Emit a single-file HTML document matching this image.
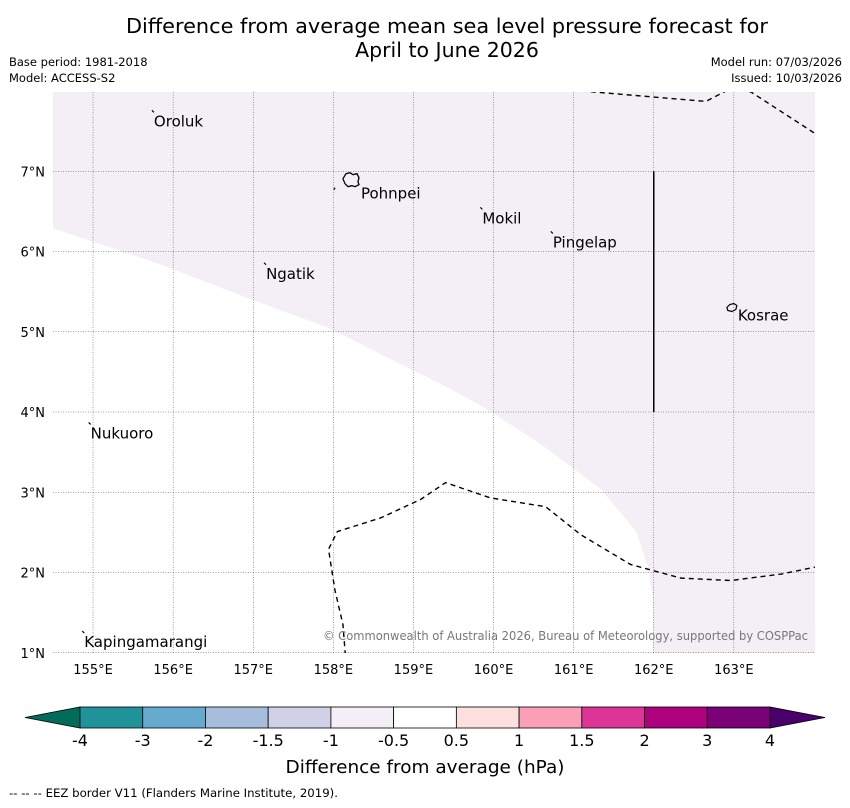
<!DOCTYPE html>
<html><head><meta charset="utf-8"><style>
body{margin:0;background:#fff;width:850px;height:804px;overflow:hidden;font-family:"DejaVu Sans","Liberation Sans",sans-serif}
svg text{font-family:"DejaVu Sans","Liberation Sans",sans-serif}
</style></head><body>
<svg id="chart" width="850" height="804" xmlns="http://www.w3.org/2000/svg">
<text x="447" y="33" font-size="20.5" text-anchor="middle" textLength="642" lengthAdjust="spacingAndGlyphs">Difference from average mean sea level pressure forecast for</text>
<text x="447" y="57" font-size="20.5" text-anchor="middle">April to June 2026</text>
<text x="9" y="66" font-size="11.5">Base period: 1981-2018</text>
<text x="9" y="82" font-size="11.5">Model: ACCESS-S2</text>
<text x="842" y="66" font-size="11.5" text-anchor="end">Model run: 07/03/2026</text>
<text x="842" y="82" font-size="11.5" text-anchor="end">Issued: 10/03/2026</text>
<defs><clipPath id="mapclip"><rect x="53" y="92" width="762" height="561"/></clipPath></defs>
<g id="map" clip-path="url(#mapclip)"></g>
<g id="axes"></g>
<g id="cbar"></g>
<text x="425" y="773" font-size="18" text-anchor="middle" textLength="279" lengthAdjust="spacingAndGlyphs">Difference from average (hPa)</text>
<text x="9" y="797" font-size="11.5" textLength="329" lengthAdjust="spacingAndGlyphs">--  --  -- EEZ border V11 (Flanders Marine Institute, 2019).</text>
</svg>
<script>
const lonTicks=[155,156,157,158,159,160,161,162,163];
const latTicks=[1,2,3,4,5,6,7];
const boundaryLon=[154.5,155.84,156.96,157.96,158.71,159.46,159.96,160.59,161.34,161.78,161.94,161.99,161.99];
const boundaryLat=[6.29,5.84,5.41,5.04,4.66,4.29,4.01,3.6,3.04,2.51,2.04,1.66,1.0];
const eezNorthLon=[160.99,162.65,162.96,163.21,164.03];
const eezNorthLat=[8.01,7.87,8.03,7.99,7.46];
const eezSouthLon=[158.15,158.12,158.02,157.96,157.94,158.05,158.59,159.09,159.4,159.96,160.65,161.09,161.71,162.34,162.96,163.59,164.03];
const eezSouthLat=[0.97,1.35,1.78,2.16,2.29,2.51,2.68,2.91,3.12,2.93,2.82,2.47,2.1,1.93,1.9,1.98,2.07];
const islandNames=["Oroluk","Pohnpei","Mokil","Pingelap","Ngatik","Kosrae","Nukuoro","Kapingamarangi"];
const islandLon=[155.76,158.22,159.86,160.74,157.16,163.0,154.97,154.89];
const islandLat=[7.66,6.87,6.45,6.15,5.76,5.24,3.77,1.17];
const cbLevels=["-4","-3","-2","-1.5","-1","-0.5","0.5","1","1.5","2","3","4"];
const cbColors=["#1f9399","#67aacf","#a6bddb","#d0d1e6","#f4eef7","#ffffff","#fde0dd","#fa9fb5","#dd3497","#ae017e","#7a0177"];
const cbUnder="#016c59", cbOver="#49006a";
const NS="http://www.w3.org/2000/svg";
const X=lon=>53+(lon-154.5)*80.1;
const Y=lat=>91-(lat-8)*80.25;
function mk(tag,attrs,parent){const e=document.createElementNS(NS,tag);for(const k in attrs)e.setAttribute(k,attrs[k]);parent.appendChild(e);return e;}
const map=document.getElementById('map'),axes=document.getElementById('axes'),cb=document.getElementById('cbar');
let bg=mk('rect',{x:53,y:92,width:762,height:561,fill:'#f4eef7'},map);


let pts=boundaryLon.map((l,i)=>X(l)+','+Y(boundaryLat[i]));
pts.push(X(154.5)+','+Y(1.0));
let wr=mk('polygon',{points:pts.join(' '),fill:'#ffffff'},map);


lonTicks.forEach(l=>{
 let g=mk('line',{x1:X(l),x2:X(l),y1:92,y2:653,stroke:'#444','stroke-width':0.5,'stroke-dasharray':'1,1.5'},map);
 
 
 let t=mk('text',{x:X(l),y:674,'font-size':13,'text-anchor':'middle'},axes);t.textContent=l+'°E';
 
 
});
latTicks.forEach(l=>{
 let g=mk('line',{x1:53,x2:815,y1:Y(l),y2:Y(l),stroke:'#444','stroke-width':0.5,'stroke-dasharray':'1,1.5'},map);
 
 
 let t=mk('text',{x:45,y:Y(l)+5,'font-size':13,'text-anchor':'end'},axes);t.textContent=l+'°N';
 
 
});
[[eezNorthLon,eezNorthLat],[eezSouthLon,eezSouthLat]].forEach(([a,b])=>{
 let p=mk('polyline',{points:a.map((l,i)=>X(l)+','+Y(b[i])).join(' '),fill:'none',stroke:'#000','stroke-width':1.4,'stroke-dasharray':'5,4'},map);
 
 
});
let sl=mk('line',{x1:X(162),x2:X(162),y1:Y(7),y2:Y(4),stroke:'#000','stroke-width':1.5},map);


islandNames.forEach((n,i)=>{
 let x=X(islandLon[i]),y=Y(islandLat[i]);
 let d;
 if(n==='Pohnpei'){
  d=mk('path',{d:`M${x-8},${y-3} l3,-5 l4,-1 l3,2 l4,-1 l2,4 l-1,4 l1,3 l-4,2 l-3,-1 l-4,1 l-3,-3 z`,fill:'none',stroke:'#000','stroke-width':1.3},map);
  mk('line',{x1:x-17,y1:y+8,x2:x-16,y2:y+6,stroke:'#000','stroke-width':1.3},map);
 } else if(n==='Kosrae'){
  d=mk('path',{d:`M${x-7},${y-5} l3,-3 l4,-1 l3,2 l-1,4 l-4,2 l-4,-1 z`,fill:'none',stroke:'#000','stroke-width':1.2},map);
 } else {
  d=mk('line',{x1:x-2,y1:y-8,x2:x,y2:y-6,stroke:'#000','stroke-width':1.2},map);
 }
 
 
 let dx=n==='Pohnpei'?10:(n==='Kosrae'?4:0), dy=n==='Pohnpei'?17:(n==='Kosrae'?8:8);
 let t=mk('text',{x:x+dx,y:y+dy,'font-size':15},map);t.textContent=n;
 
 
});
let cr=mk('text',{x:808,y:640,'font-size':12,'text-anchor':'end',fill:'#777',textLength:485,lengthAdjust:'spacingAndGlyphs'},map);
cr.textContent='© Commonwealth of Australia 2026, Bureau of Meteorology, supported by COSPPac';


const cx0=80,cx1=770,cy=707,ch=21,w=(cx1-cx0)/cbColors.length;
let u=mk('polygon',{points:`${cx0},${cy} ${cx0},${cy+ch} 25,${cy+ch/2}`,fill:cbUnder,stroke:'#000','stroke-width':0.8},cb);


let o=mk('polygon',{points:`${cx1},${cy} ${cx1},${cy+ch} 825,${cy+ch/2}`,fill:cbOver,stroke:'#000','stroke-width':0.8},cb);


cbColors.forEach((c,i)=>{
 let r=mk('rect',{x:cx0+i*w,y:cy,width:w,height:ch,fill:c,stroke:'#000','stroke-width':0.8},cb);
 
 
});
cbLevels.forEach((l,i)=>{
 let t=mk('text',{x:cx0+i*w,y:746,'font-size':16,'text-anchor':'middle'},cb);t.textContent=l;
 
 
});
</script>
</body></html>
